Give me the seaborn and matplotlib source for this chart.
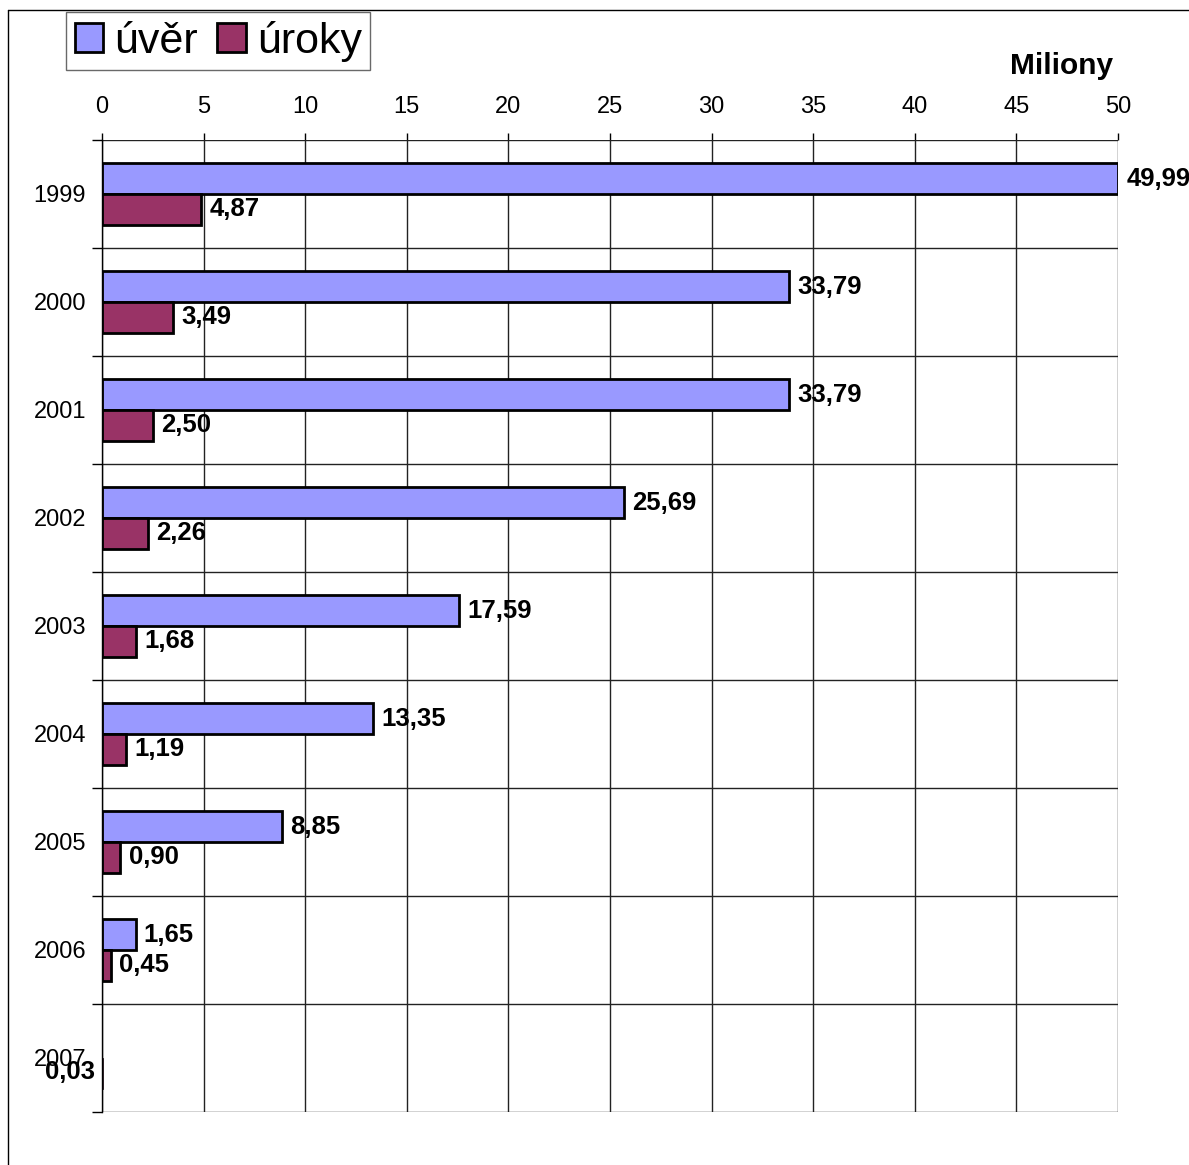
import pandas as pd
import matplotlib.pyplot as plt
import seaborn as sns
from matplotlib.lines import Line2D

# data (millions)
years = ["1999", "2000", "2001", "2002", "2003", "2004", "2005", "2006", "2007"]
uver = [49.99, 33.79, 33.79, 25.69, 17.59, 13.35, 8.85, 1.65, None]
uroky = [4.87, 3.49, 2.50, 2.26, 1.68, 1.19, 0.90, 0.45, 0.03]
series = ["úvěr", "úroky"]
colors = ["#9999FF", "#993366"]
x_ticks = list(range(0, 51, 5))

df = pd.DataFrame({
    "rok": years * 2,
    "hodnota": uver + uroky,
    "rada": [series[0]] * len(years) + [series[1]] * len(years),
})

sns.set_style("white")
plt.rcParams["font.family"] = ["Liberation Sans", "DejaVu Sans"]
plt.rcParams["text.color"] = "black"
plt.rcParams["xtick.color"] = "black"
plt.rcParams["ytick.color"] = "black"

fig = plt.figure(figsize=(11.89, 11.65), dpi=100)
ax = fig.add_axes([102 / 1189, 1 - 1112 / 1165, (1118 - 102) / 1189, (1112 - 140) / 1165])

sns.barplot(data=df, x="hodnota", y="rok", hue="rada", order=years,
            hue_order=series, palette=colors, orient="h", width=0.574,
            gap=0, edgecolor="black", linewidth=2, saturation=1,
            legend=False, ax=ax)

ax.set_xlim(0, 50)
ax.set_ylim(len(years) - 0.5, -0.5)
ax.set_xlabel("")
ax.set_ylabel("")

# x axis on top
ax.xaxis.tick_top()
ax.set_xticks(x_ticks)
ax.set_xticklabels([str(t) for t in x_ticks])
ax.tick_params(axis="x", which="major", top=True, direction="out", length=5,
               width=1, color="black", pad=11, labelsize=17)

# y: labels at category centres, marks at category borders
ax.set_yticks(range(len(years)))
ax.set_yticklabels(years)
ax.set_yticks([i - 0.5 for i in range(len(years) + 1)], minor=True)
ax.tick_params(axis="y", which="major", left=False, pad=8, labelsize=17)
ax.tick_params(axis="y", which="minor", left=True, direction="out", length=7,
               width=1, color="black")

ax.grid(False)
ax.xaxis.grid(True, which="major", color="#222222", linewidth=1)
ax.yaxis.grid(True, which="minor", color="#222222", linewidth=1)
ax.set_axisbelow(True)
for side in ["top", "bottom", "right"]:
    ax.spines[side].set_visible(False)
ax.spines["left"].set_color("black")
ax.spines["left"].set_linewidth(1)

# value labels
for cont in ax.containers:
    for bar in cont:
        w = bar.get_width()
        if w != w or w is None:
            continue
        label = f"{w:.2f}".replace(".", ",")
        y = bar.get_y() + bar.get_height() / 2
        if w < 0.1:
            bar.set_linewidth(0.5)
            ax.annotate(label, (0, y), xytext=(-5, 1), textcoords="offset points",
                        ha="right", va="center", fontsize=18.5, fontweight="bold",
                        annotation_clip=False)
        else:
            ax.annotate(label, (w, y), xytext=(6, 0), textcoords="offset points",
                        ha="left", va="center", fontsize=18.5, fontweight="bold",
                        annotation_clip=False)

# legend
handles = [plt.Rectangle((0, 0), 1, 1, facecolor=c, edgecolor="black", linewidth=2)
           for c in colors]
leg = fig.legend(handles, series, loc="upper left", ncol=2,
                 bbox_to_anchor=(66 / 1189, 1 - 12 / 1165), borderaxespad=0,
                 fontsize=31, frameon=True, fancybox=False, handlelength=0.67,
                 handleheight=0.67, handletextpad=0.25, columnspacing=0.45,
                 borderpad=0.2)
leg.get_frame().set_edgecolor("#444444")
leg.get_frame().set_linewidth(1)

fig.text(1113 / 1189, 1 - 66 / 1165, "Miliony", ha="right", va="center",
         fontsize=21.5, fontweight="bold")

# outer frame
fig.add_artist(Line2D([8 / 1189, 8 / 1189], [0, 1 - 10 / 1165], color="black", linewidth=1))
fig.add_artist(Line2D([8 / 1189, 1], [1 - 10 / 1165, 1 - 10 / 1165], color="black", linewidth=1))

fig.savefig("out.png", dpi=100)
